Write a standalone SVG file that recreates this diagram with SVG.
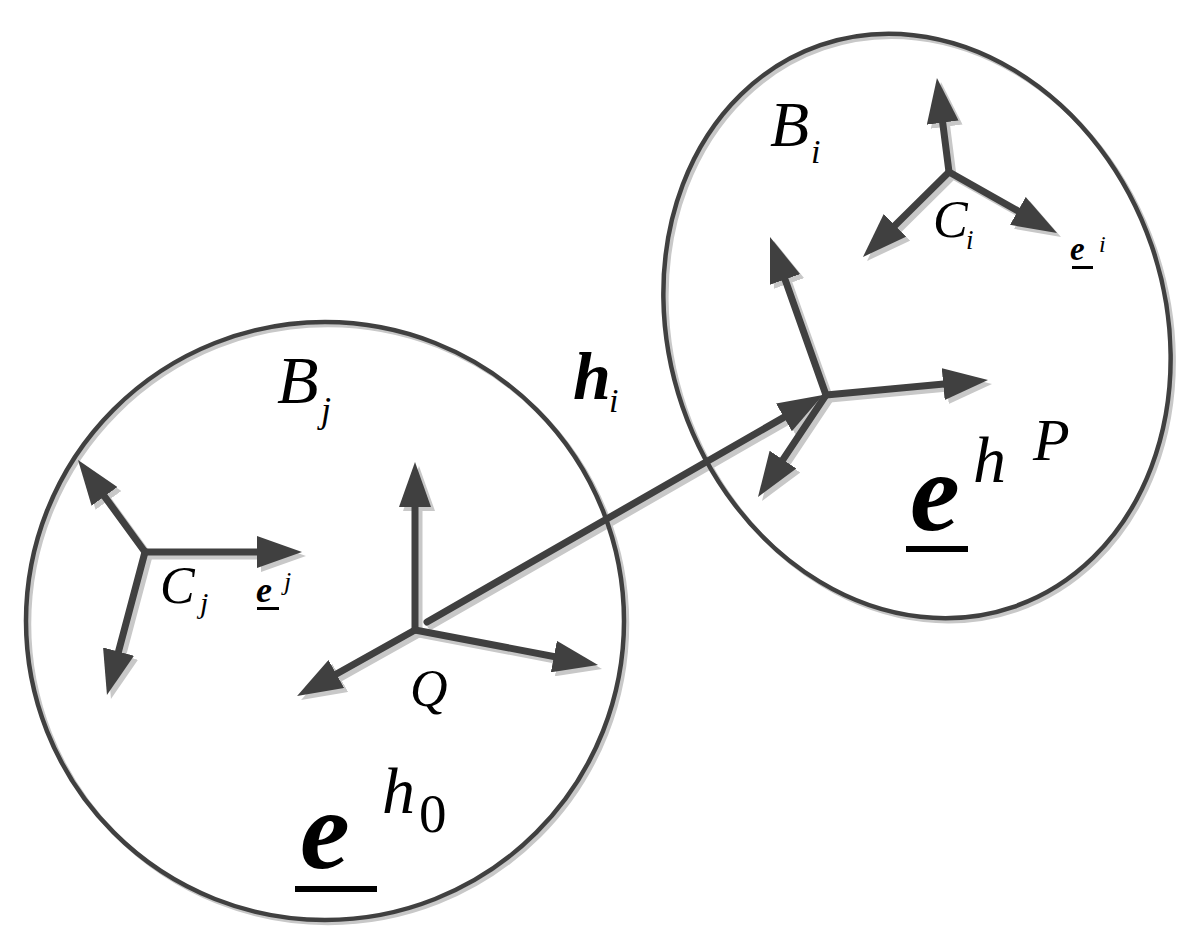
<svg xmlns="http://www.w3.org/2000/svg" width="1199" height="948" viewBox="0 0 1199 948">
<style>
.ar{stroke:#404040;stroke-width:7;fill:none;stroke-linecap:round;marker-end:url(#ah)}
.arsh{stroke:#c8c8c8;stroke-width:7;fill:none;stroke-linecap:round;marker-end:url(#ahs)}
.body{stroke:#404040;stroke-width:4.5;fill:none}
.bodysh{stroke:#c8c8c8;stroke-width:4.5;fill:none}
</style>
<defs>
<marker id="ah" markerUnits="userSpaceOnUse" viewBox="0 0 45 32" markerWidth="45" markerHeight="32" refX="25" refY="16" orient="auto">
<path d="M0,0 L45,16 L0,32 z" fill="#404040"/>
</marker>
<marker id="ahs" markerUnits="userSpaceOnUse" viewBox="0 0 45 32" markerWidth="45" markerHeight="32" refX="25" refY="16" orient="auto">
<path d="M0,0 L45,16 L0,32 z" fill="#c8c8c8"/>
</marker>
</defs>
<rect width="1199" height="948" fill="#fff"/>

<g id="shadows">
<circle class="bodysh" cx="328" cy="624" r="299"/>
<ellipse class="bodysh" cx="920" cy="329" rx="248" ry="297" transform="rotate(-19 920 329)"/>
<g transform="translate(4 4)">
<line class="arsh" x1="415" y1="630" x2="415" y2="482"/>
<line class="arsh" x1="415" y1="630" x2="314.5" y2="686.2"/>
<line class="arsh" x1="415" y1="630" x2="578.4" y2="661.2"/>
<line class="arsh" x1="427" y1="622" x2="805.6" y2="404.9"/>
<line class="arsh" x1="826" y1="395" x2="776.7" y2="255.9"/>
<line class="arsh" x1="826" y1="395" x2="968.1" y2="381.8"/>
<line class="arsh" x1="826" y1="395" x2="769.1" y2="480.4"/>
<line class="arsh" x1="949" y1="172" x2="939.5" y2="97.8"/>
<line class="arsh" x1="949" y1="172" x2="877.2" y2="242.9"/>
<line class="arsh" x1="949" y1="172" x2="1039.6" y2="223.2"/>
<line class="arsh" x1="145" y1="552" x2="89.8" y2="476.2"/>
<line class="arsh" x1="145" y1="552" x2="282" y2="552"/>
<line class="arsh" x1="145" y1="552" x2="112.1" y2="675.7"/>
</g>
</g>

<g id="body-Bj">
<circle class="body" cx="325" cy="621" r="299"/>
</g>
<g id="body-Bi">
<ellipse class="body" cx="917" cy="326" rx="248" ry="297" transform="rotate(-19 917 326)"/>
</g>

<g id="connectors">
<line id="hi" class="ar" x1="427" y1="622" x2="805.6" y2="404.9"/>
</g>

<g id="frame-Q">
<line class="ar" x1="415" y1="630" x2="415" y2="482"/>
<line class="ar" x1="415" y1="630" x2="314.5" y2="686.2"/>
<line class="ar" x1="415" y1="630" x2="578.4" y2="661.2"/>
</g>
<g id="frame-P">
<line class="ar" x1="826" y1="395" x2="776.7" y2="255.9"/>
<line class="ar" x1="826" y1="395" x2="968.1" y2="381.8"/>
<line class="ar" x1="826" y1="395" x2="769.1" y2="480.4"/>
</g>
<g id="frame-Ci">
<line class="ar" x1="949" y1="172" x2="939.5" y2="97.8"/>
<line class="ar" x1="949" y1="172" x2="877.2" y2="242.9"/>
<line class="ar" x1="949" y1="172" x2="1039.6" y2="223.2"/>
</g>
<g id="frame-Cj">
<line class="ar" x1="145" y1="552" x2="89.8" y2="476.2"/>
<line class="ar" x1="145" y1="552" x2="282" y2="552"/>
<line class="ar" x1="145" y1="552" x2="112.1" y2="675.7"/>
</g>

<g id="labels" font-family="Liberation Serif" font-style="italic" fill="#000">
<text x="770" y="146" font-size="64">B</text>
<text x="811" y="163" font-size="34">i</text>
<text x="933" y="237" font-size="52">C</text>
<text x="966" y="249" font-size="27">i</text>
<text x="1070" y="260" font-size="33" font-weight="bold">e</text>
<rect x="1072" y="266" width="21" height="3" fill="#000"/>
<text x="1099" y="252" font-size="24">i</text>

<text x="277" y="403" font-size="68">B</text>
<text x="321" y="422" font-size="36">j</text>
<text x="573" y="399" font-size="68" font-weight="bold">h</text>
<text x="609" y="412" font-size="34">i</text>

<text x="160" y="603" font-size="52">C</text>
<text x="200" y="613" font-size="30">j</text>
<text x="256" y="602" font-size="36" font-weight="bold">e</text>
<rect x="257" y="607" width="22" height="3" fill="#000"/>
<text x="284" y="590" font-size="26">j</text>

<text x="410" y="706" font-size="52">Q</text>

<text x="300" y="868" font-size="112" font-weight="bold">e</text>
<rect x="295" y="886" width="82" height="6" fill="#000"/>
<text x="382" y="813" font-size="66">h</text>
<text x="419" y="832" font-size="55" font-style="normal">0</text>

<text x="910" y="530" font-size="112" font-weight="bold">e</text>
<rect x="906" y="546" width="62" height="6" fill="#000"/>
<text x="973" y="482" font-size="66">h</text>
<text x="1033" y="460" font-size="60">P</text>
</g>
</svg>
